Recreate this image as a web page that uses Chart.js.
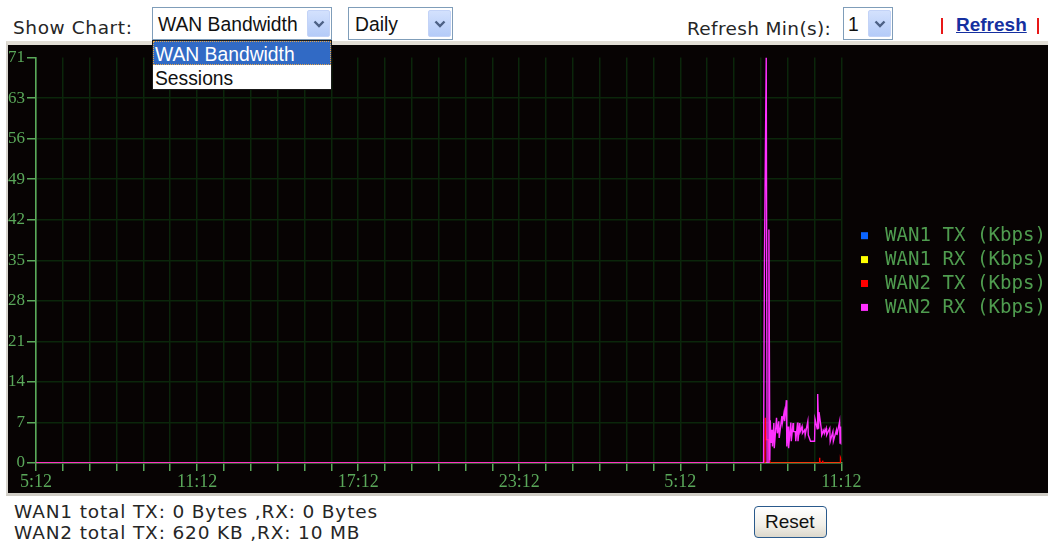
<!DOCTYPE html>
<html>
<head>
<meta charset="utf-8">
<script src="https://cdn.jsdelivr.net/npm/chart.js@4.4.1/dist/chart.umd.min.js"></script>
<style>
  html, body { margin: 0; padding: 0; background: #fff; width: 1048px; height: 544px; overflow: hidden; }
  body { position: relative; }
  .txt { position: absolute; white-space: nowrap; font-family: "DejaVu Sans", sans-serif; font-size: 18.5px; line-height: normal; color: #262626; }
  .ui { position: absolute; white-space: nowrap; font-family: "Liberation Sans", Arial, sans-serif; font-size: 19.3px; line-height: 22px; color: #111; }
  .sel { position: absolute; box-sizing: border-box; border: 1px solid #7f9db9; background: #fff; }
  .btn { position: absolute; box-sizing: border-box; top: 2px; bottom: 2px; right: 1px; width: 23px;
         background: linear-gradient(#d3e1fd, #b4cbf8); border: 1px solid #c3d3f7; border-radius: 2px; }
  .btn svg { position: absolute; left: 5px; top: 8px; }
  .bar { position: absolute; width: 2px; background: #e81818; top: 18px; height: 16px; }
  #panel { position: absolute; left: 6px; top: 41px; width: 1042px; height: 455px; box-sizing: border-box;
           background: #070303; border-top: 4px solid #e2ded6; border-left: 2px solid #d6d3cc; border-bottom: 3px solid #cfccc5; }
  #chart { position: absolute; left: 8px; top: 45px; }
  #drop { position: absolute; left: 152px; top: 40px; width: 180px; height: 50px; box-sizing: border-box;
          border: 1px solid #1a1a1a; background: #fff; z-index: 5; }
  #drop .hi { position: absolute; left: 0; top: 0; width: 178px; height: 24px; background: #316ac5;
              outline: 1px dotted #e6a64a; outline-offset: -1px; }
  #reset { position: absolute; left: 754px; top: 506px; width: 73px; height: 32px; box-sizing: border-box;
           border: 1px solid #2a5a8c; border-radius: 4px; background: linear-gradient(#ffffff, #f1efe8 60%, #dcd8cc); }
  a.ref { position: absolute; font-family: "Liberation Sans", Arial, sans-serif; font-weight: bold; font-size: 19px;
          line-height: 22px; color: #1530a0; text-decoration: underline; white-space: nowrap; }
</style>
</head>
<body>

<div class="txt" style="left:13px; top:17px; letter-spacing:0.6px;">Show Chart:</div>

<div class="sel" style="left:152px; top:7px; width:180px; height:33px;">
  <div class="btn"><svg width="12" height="10"><polyline points="1.5,2.5 6,7 10.5,2.5" fill="none" stroke="#4d6185" stroke-width="2.4"/></svg></div>
</div>
<div class="ui" style="left:158px; top:14px;">WAN Bandwidth</div>

<div class="sel" style="left:348px; top:7px; width:105px; height:33px;">
  <div class="btn"><svg width="12" height="10"><polyline points="1.5,2.5 6,7 10.5,2.5" fill="none" stroke="#4d6185" stroke-width="2.4"/></svg></div>
</div>
<div class="ui" style="left:355px; top:14px;">Daily</div>

<div class="txt" style="left:687px; top:17.5px; letter-spacing:0.35px;">Refresh Min(s):</div>

<div class="sel" style="left:843px; top:7px; width:50px; height:33px;">
  <div class="btn"><svg width="12" height="10"><polyline points="1.5,2.5 6,7 10.5,2.5" fill="none" stroke="#4d6185" stroke-width="2.4"/></svg></div>
</div>
<div class="ui" style="left:848px; top:14px;">1</div>

<div class="bar" style="left:941px;"></div>
<a class="ref" style="left:956px; top:14px;">Refresh</a>
<div class="bar" style="left:1037px;"></div>

<div id="panel"></div>
<canvas id="chart" width="1040" height="447"></canvas>

<div id="drop">
  <div class="hi"></div>
  <div class="ui" style="left:2px; top:3px; color:#fff;">WAN Bandwidth</div>
  <div class="ui" style="left:2px; top:26.5px;">Sessions</div>
</div>

<div class="txt" style="left:14px; top:501px; letter-spacing:0.85px;">WAN1 total TX: 0 Bytes ,RX: 0 Bytes</div>
<div class="txt" style="left:14px; top:522px; letter-spacing:0.85px;">WAN2 total TX: 620 KB ,RX: 10 MB</div>

<div id="reset"></div>
<div class="ui" style="left:765px; top:510.5px; font-size:19px;">Reset</div>

<script>
// Time axis: minutes elapsed since 5:12, one tick per hour, a label every 6 hours
const xMaxMinutes = 1800;
const xTickStep = 60;
const xLabelEvery = 360;
const xTickLabels = ['5:12', '11:12', '17:12', '23:12', '5:12', '11:12'];

// Rate axis (Kbps): ten equal steps up to the peak, labels shown truncated
const yMax = 71;
const yTickLabels = ['0', '7', '14', '21', '28', '35', '42', '49', '56', '63', '71'];

const seriesNames  = ['WAN1 TX (Kbps)', 'WAN1 RX (Kbps)', 'WAN2 TX (Kbps)', 'WAN2 RX (Kbps)'];
const seriesColors = ['#0a64ff', '#ffff00', '#ff0000', '#ff30ff'];

// WAN1 carried no traffic all day
const wan1TxMinutes = [0, 1800];
const wan1TxValues  = [0, 0];
const wan1RxMinutes = [0, 1800];
const wan1RxValues  = [0, 0];

// WAN2 upload
const wan2TxMinutes = [0, 1629, 1630, 1632, 1637, 1639, 1641, 1750, 1751, 1752, 1753, 1757, 1758, 1759, 1797, 1798, 1800];
const wan2TxValues  = [0, 0,    7.9,  4.1,  4.1,  0.6,  0,    0,    0.9,  0.5,  0,    0,    0.4,  0,    0,    0.9,  0.5];

// WAN2 download
const wan2RxMinutes = [0, 1626, 1628, 1632, 1634, 1636, 1638, 1640,
  1641, 1643, 1645, 1646, 1649, 1650, 1655, 1657, 1660, 1661, 1667, 1668,
  1672, 1673, 1677, 1678, 1681, 1682, 1687, 1688, 1692, 1693, 1697, 1698,
  1702, 1703, 1707, 1708, 1712, 1713, 1718, 1719, 1725, 1726, 1731, 1740,
  1741, 1746, 1747, 1749, 1750, 1755, 1756, 1761, 1762, 1766, 1767, 1774,
  1775, 1781, 1782, 1789, 1790, 1796, 1797, 1799, 1800];
const wan2RxValues = [0, 0, 35.5, 71, 0, 0, 40.9, 0.5,
  7.5, 3.5, 5.8, 2.9, 7.0, 2.6, 7.9, 5.2, 7.3, 4.4, 8.2, 7.0,
  8.9, 7.3, 11.0, 2.9, 6.4, 2.6, 7.1, 3.8, 7.0, 5.5, 5.5, 3.8,
  7.1, 3.8, 7.0, 5.5, 6.4, 5.2, 5.8, 4.9, 7.3, 4.9, 3.8, 3.8,
  7.7, 6.0, 12.1, 6.0, 8.9, 6.0, 4.9, 5.8, 5.2, 6.1, 4.9, 6.1,
  3.8, 5.5, 3.8, 5.8, 4.9, 7.3, 3.5, 6.4, 3.2];

const toPoints = (mins, vals) => mins.map((m, i) => ({ x: m, y: vals[i] }));

const seriesPoints = [
  toPoints(wan1TxMinutes, wan1TxValues),
  toPoints(wan1RxMinutes, wan1RxValues),
  toPoints(wan2TxMinutes, wan2TxValues),
  toPoints(wan2RxMinutes, wan2RxValues)
];

const GREEN = '#5aa85a';
const GRID = '#0b260b';

// Legend drawn at the right of the plot: colour square plus label
const sideLegend = {
  id: 'sideLegend',
  afterDraw(chart, args, o) {
    const ctx = chart.ctx;
    ctx.save();
    ctx.font = o.font;
    ctx.textBaseline = 'alphabetic';
    chart.data.datasets.forEach((ds, i) => {
      const cy = o.top + i * o.rowHeight;
      ctx.fillStyle = ds.borderColor;
      ctx.fillRect(o.boxX, cy - o.box / 2, o.box, o.box);
      ctx.fillStyle = o.color;
      ctx.fillText(ds.label, o.textX, cy + o.textDy);
    });
    ctx.restore();
  }
};

new Chart(document.getElementById('chart'), {
  type: 'line',
  data: {
    datasets: seriesNames.map((name, i) => ({
      label: name,
      data: seriesPoints[i],
      borderColor: seriesColors[i],
      backgroundColor: seriesColors[i],
      borderWidth: 1.4,
      pointRadius: 0,
      tension: 0,
      fill: false,
      order: seriesNames.length - i
    }))
  },
  options: {
    responsive: false,
    animation: false,
    devicePixelRatio: 1,
    layout: { padding: { left: 0, top: 12.5, right: 206.6, bottom: 0 } },
    plugins: {
      legend: { display: false },
      tooltip: { enabled: false },
      sideLegend: {
        font: '19.1px "DejaVu Sans Mono", monospace',
        color: '#4f9c4f',
        boxX: 853, box: 7, top: 190.7, rowHeight: 23.9, textX: 877, textDy: 5.3
      }
    },
    scales: {
      x: {
        type: 'linear',
        min: 0,
        max: xMaxMinutes,
        afterFit: (s) => { s.height = 29; },
        afterBuildTicks: (s) => {
          const t = [];
          for (let m = 0; m <= xMaxMinutes; m += xTickStep) t.push({ value: m });
          s.ticks = t;
        },
        ticks: {
          autoSkip: false,
          maxRotation: 0,
          padding: 0,
          color: GREEN,
          font: { family: 'Liberation Serif', size: 18 },
          callback: (v) => (v % xLabelEvery === 0 ? xTickLabels[v / xLabelEvery] : '')
        },
        grid: { color: GRID, lineWidth: 1.5, tickColor: GREEN, tickLength: 8, tickWidth: 1.5 },
        border: { color: GREEN, width: 1.6 }
      },
      y: {
        min: 0,
        max: yMax,
        afterFit: (s) => { s.width = 28; },
        afterBuildTicks: (s) => {
          s.ticks = yTickLabels.map((_, i) => ({ value: yMax * i / (yTickLabels.length - 1) }));
        },
        ticks: {
          padding: 2,
          color: GREEN,
          font: { family: 'Liberation Serif', size: 17 },
          callback: (v, i) => yTickLabels[i]
        },
        grid: {
          color: (c) => (c.tick && c.tick.value >= yMax ? 'rgba(0,0,0,0)' : GRID),
          lineWidth: 1.5, tickColor: GREEN, tickLength: 9, tickWidth: 1.5
        },
        border: { color: GREEN, width: 1.6 }
      }
    }
  },
  plugins: [sideLegend]
});
</script>
</body>
</html>
